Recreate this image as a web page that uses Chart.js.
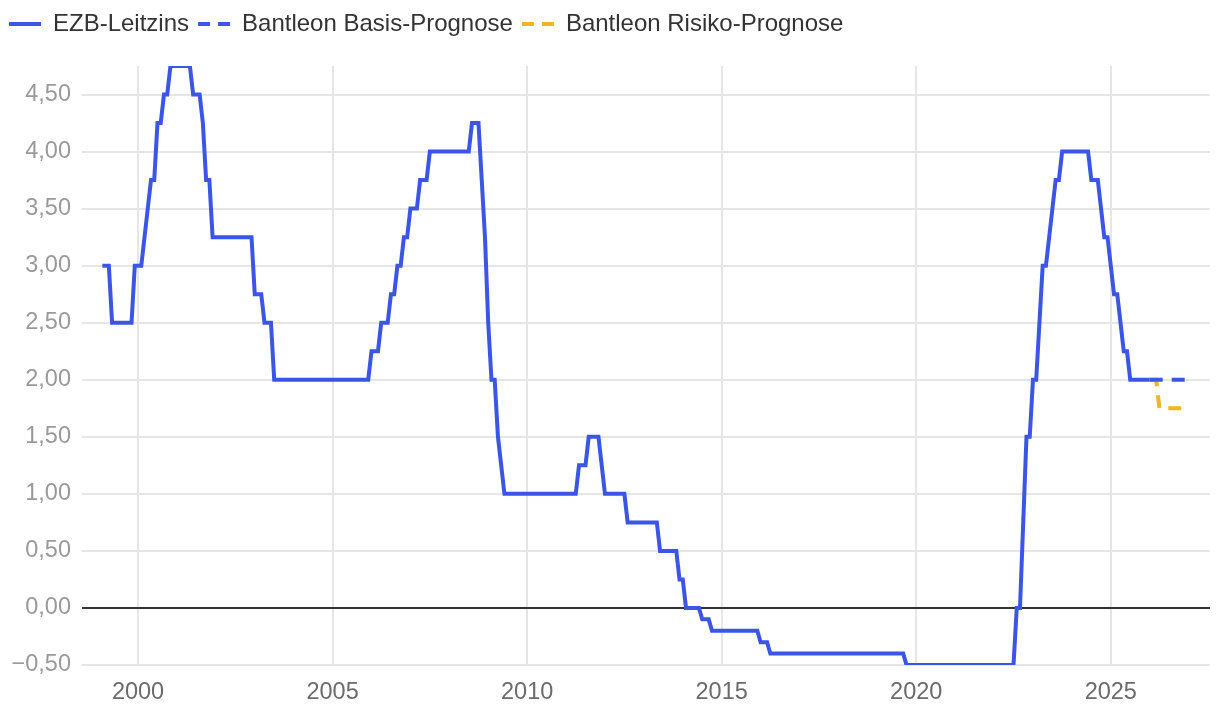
<!DOCTYPE html>
<html lang="de">
<head>
<meta charset="utf-8">
<title>EZB-Leitzins und Bantleon-Prognosen</title>
<script src="https://cdn.jsdelivr.net/npm/chart.js@4.4.1/dist/chart.umd.min.js"></script>
<style>
  html, body { margin: 0; padding: 0; background: #fff; }
  #wrap { width: 1220px; height: 712px; position: relative; }
</style>
</head>
<body>
<div id="wrap"><canvas id="zinsChart"></canvas></div>
<script>
// Monatsendwerte in %, Januar 1999 bis Dezember 2025 (eine Zeile pro Jahr)
const startJahr = 1999;
const leitzins = [
  3.00, 3.00, 3.00, 2.50, 2.50, 2.50, 2.50, 2.50, 2.50, 2.50, 3.00, 3.00, // 1999
  3.00, 3.25, 3.50, 3.75, 3.75, 4.25, 4.25, 4.50, 4.50, 4.75, 4.75, 4.75, // 2000
  4.75, 4.75, 4.75, 4.75, 4.50, 4.50, 4.50, 4.25, 3.75, 3.75, 3.25, 3.25, // 2001
  3.25, 3.25, 3.25, 3.25, 3.25, 3.25, 3.25, 3.25, 3.25, 3.25, 3.25, 2.75, // 2002
  2.75, 2.75, 2.50, 2.50, 2.50, 2.00, 2.00, 2.00, 2.00, 2.00, 2.00, 2.00, // 2003
  2.00, 2.00, 2.00, 2.00, 2.00, 2.00, 2.00, 2.00, 2.00, 2.00, 2.00, 2.00, // 2004
  2.00, 2.00, 2.00, 2.00, 2.00, 2.00, 2.00, 2.00, 2.00, 2.00, 2.00, 2.25, // 2005
  2.25, 2.25, 2.50, 2.50, 2.50, 2.75, 2.75, 3.00, 3.00, 3.25, 3.25, 3.50, // 2006
  3.50, 3.50, 3.75, 3.75, 3.75, 4.00, 4.00, 4.00, 4.00, 4.00, 4.00, 4.00, // 2007
  4.00, 4.00, 4.00, 4.00, 4.00, 4.00, 4.25, 4.25, 4.25, 3.75, 3.25, 2.50, // 2008
  2.00, 2.00, 1.50, 1.25, 1.00, 1.00, 1.00, 1.00, 1.00, 1.00, 1.00, 1.00, // 2009
  1.00, 1.00, 1.00, 1.00, 1.00, 1.00, 1.00, 1.00, 1.00, 1.00, 1.00, 1.00, // 2010
  1.00, 1.00, 1.00, 1.25, 1.25, 1.25, 1.50, 1.50, 1.50, 1.50, 1.25, 1.00, // 2011
  1.00, 1.00, 1.00, 1.00, 1.00, 1.00, 0.75, 0.75, 0.75, 0.75, 0.75, 0.75, // 2012
  0.75, 0.75, 0.75, 0.75, 0.50, 0.50, 0.50, 0.50, 0.50, 0.50, 0.25, 0.25, // 2013
  0.00, 0.00, 0.00, 0.00, 0.00, -0.10, -0.10, -0.10, -0.20, -0.20, -0.20, -0.20, // 2014
  -0.20, -0.20, -0.20, -0.20, -0.20, -0.20, -0.20, -0.20, -0.20, -0.20, -0.20, -0.30, // 2015
  -0.30, -0.30, -0.40, -0.40, -0.40, -0.40, -0.40, -0.40, -0.40, -0.40, -0.40, -0.40, // 2016
  -0.40, -0.40, -0.40, -0.40, -0.40, -0.40, -0.40, -0.40, -0.40, -0.40, -0.40, -0.40, // 2017
  -0.40, -0.40, -0.40, -0.40, -0.40, -0.40, -0.40, -0.40, -0.40, -0.40, -0.40, -0.40, // 2018
  -0.40, -0.40, -0.40, -0.40, -0.40, -0.40, -0.40, -0.40, -0.50, -0.50, -0.50, -0.50, // 2019
  -0.50, -0.50, -0.50, -0.50, -0.50, -0.50, -0.50, -0.50, -0.50, -0.50, -0.50, -0.50, // 2020
  -0.50, -0.50, -0.50, -0.50, -0.50, -0.50, -0.50, -0.50, -0.50, -0.50, -0.50, -0.50, // 2021
  -0.50, -0.50, -0.50, -0.50, -0.50, -0.50, 0.00, 0.00, 0.75, 1.50, 1.50, 2.00, // 2022
  2.00, 2.50, 3.00, 3.00, 3.25, 3.50, 3.75, 3.75, 4.00, 4.00, 4.00, 4.00, // 2023
  4.00, 4.00, 4.00, 4.00, 4.00, 3.75, 3.75, 3.75, 3.50, 3.25, 3.25, 3.00, // 2024
  2.75, 2.75, 2.50, 2.25, 2.25, 2.00, 2.00, 2.00, 2.00, 2.00, 2.00, 2.00  // 2025
];

// Prognosen, Monatsende Dezember 2025 bis Dezember 2026
const basisPrognose  = [2.00, 2.00, 2.00, 2.00, 2.00, 2.00, 2.00, 2.00, 2.00, 2.00, 2.00, 2.00, 2.00];
const risikoPrognose = [2.00, 2.00, 2.00, 1.75, 1.75, 1.75, 1.75, 1.75, 1.75, 1.75, 1.75, 1.75, 1.75];

const serienNamen = ['EZB-Leitzins', 'Bantleon Basis-Prognose', 'Bantleon Risiko-Prognose'];
const xTicks = [2000, 2005, 2010, 2015, 2020, 2025];
const yTicks = [-0.5, 0, 0.5, 1, 1.5, 2, 2.5, 3, 3.5, 4, 4.5];

// Monatsindex -> Zeitpunkt (Monatsende, in Jahren)
function punkte(werte, startIndex) {
    return werte.map(function(v, i) {
        return { x: startJahr + (startIndex + i + 1) / 12, y: v };
    });
}

const prognoseIndex = leitzins.length - 1;

const colors = {
    blue: '#3b55e6',
    yellow: '#efb61f',
    grid: '#e6e6e6',
    zero: '#333333'
};
const fontFamily = "'Liberation Sans', Arial, sans-serif";

// etwas Abstand zwischen Legende und Diagrammfläche
const legendGap = {
    id: 'legendGap',
    beforeInit: function(chart) {
        const fitOrig = chart.legend.fit;
        chart.legend.fit = function() {
            fitOrig.call(this);
            this.height += 20;
        };
    }
};

const ctx = document.getElementById('zinsChart').getContext('2d');
new Chart(ctx, {
    type: 'line',
    plugins: [legendGap],
    data: {
        datasets: [{
            label: serienNamen[0],
            data: punkte(leitzins, 0),
            borderColor: colors.blue,
            backgroundColor: colors.blue,
            borderWidth: 4
        }, {
            label: serienNamen[1],
            data: punkte(basisPrognose, prognoseIndex),
            borderColor: colors.blue,
            backgroundColor: colors.blue,
            borderWidth: 4,
            borderDash: [13, 9]
        }, {
            label: serienNamen[2],
            data: punkte(risikoPrognose, prognoseIndex),
            borderColor: colors.yellow,
            backgroundColor: colors.yellow,
            borderWidth: 4,
            borderDash: [13, 9]
        }]
    },
    options: {
        responsive: true,
        maintainAspectRatio: false,
        animation: false,
        elements: {
            point: { radius: 0, hoverRadius: 0 },
            line: { tension: 0, fill: false }
        },
        layout: {
            padding: { left: 0, right: 10, top: 3, bottom: 0 }
        },
        plugins: {
            tooltip: { enabled: false },
            legend: {
                display: true,
                position: 'top',
                align: 'start',
                labels: {
                    usePointStyle: true,
                    pointStyle: 'line',
                    pointStyleWidth: 32,
                    padding: 9,
                    color: '#333333',
                    font: { family: fontFamily, size: 24 },
                    generateLabels: function(chart) {
                        const items = Chart.defaults.plugins.legend.labels.generateLabels(chart);
                        items.forEach(function(item) {
                            const ds = chart.data.datasets[item.datasetIndex];
                            item.strokeStyle = ds.borderColor;
                            item.lineWidth = ds.borderWidth;
                            item.lineDash = ds.borderDash ? [12, 8] : [];
                        });
                        return items;
                    }
                }
            }
        },
        scales: {
            x: {
                type: 'linear',
                min: 1998.56,
                max: 2027.55,
                afterBuildTicks: function(axis) {
                    axis.ticks = xTicks.map(function(v) { return { value: v }; });
                },
                afterFit: function(axis) { axis.height = 47; },
                grid: { color: colors.grid, lineWidth: 2, drawTicks: false },
                border: { display: false },
                ticks: {
                    padding: 13,
                    color: '#6b6b6b',
                    maxRotation: 0,
                    autoSkip: false,
                    font: { family: fontFamily, size: 23.5 },
                    callback: function(value) { return String(value); }
                }
            },
            y: {
                min: -0.5,
                max: 4.75,
                afterBuildTicks: function(axis) {
                    axis.ticks = yTicks.map(function(v) { return { value: v }; });
                },
                afterFit: function(axis) { axis.width = 82; },
                grid: {
                    drawTicks: false,
                    color: function(c) { return c.tick && c.tick.value === 0 ? colors.zero : colors.grid; },
                    lineWidth: 2
                },
                border: { display: false },
                ticks: {
                    padding: 11,
                    color: '#9a9a9a',
                    autoSkip: false,
                    font: { family: fontFamily, size: 23.5 },
                    callback: function(value) {
                        return value.toFixed(2).replace('.', ',').replace('-', '\u2212');
                    }
                }
            }
        }
    }
});
</script>
</body>
</html>
